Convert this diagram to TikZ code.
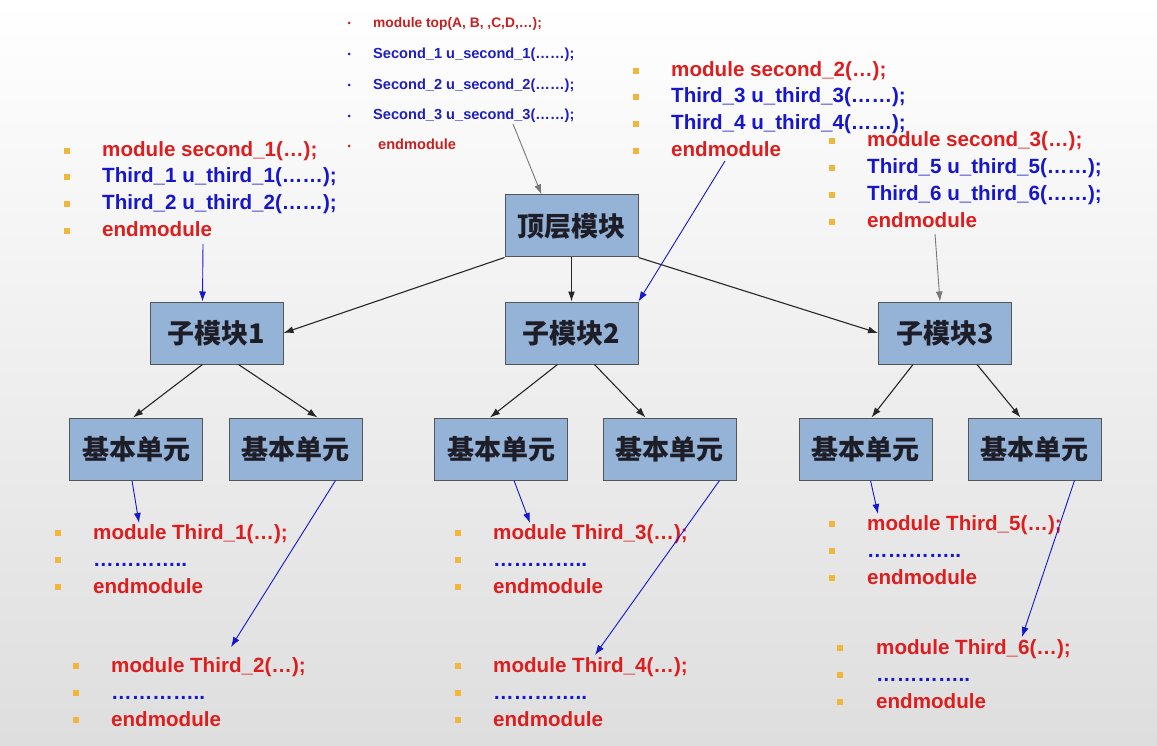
\documentclass[tikz,border=0pt]{standalone}
\usepackage{fontspec}
\setmainfont{Liberation Sans}
\newfontfamily\cjkfont{Noto Sans CJK SC}
\usetikzlibrary{arrows.meta,calc}
\definecolor{codered}{RGB}{222,30,30}
\definecolor{topred}{RGB}{200,32,32}
\definecolor{codeblue}{RGB}{22,22,205}
\definecolor{topblue}{RGB}{30,30,195}
\definecolor{bulorange}{RGB}{240,182,62}
\definecolor{boxfill}{RGB}{149,179,215}
\definecolor{boxline}{RGB}{85,85,85}
\definecolor{boxtext}{RGB}{30,30,40}
\definecolor{grayarrow}{RGB}{120,120,120}
\tikzset{
  box/.style={draw=boxline, line width=1pt, fill=boxfill, minimum width=133pt, minimum height=62pt, inner sep=0pt, text=boxtext, font=\cjkfont\bfseries\fontsize{27}{31}\selectfont},
  code/.style={anchor=base west, inner sep=0pt, font=\bfseries\fontsize{20.6}{24}\selectfont},
  rtxt/.style={code, text=codered},
  btxt/.style={code, text=codeblue},
  small/.style={anchor=base west, inner sep=0pt, font=\bfseries\fontsize{14.6}{17}\selectfont},
  srtxt/.style={small, text=topred},
  sbtxt/.style={small, text=topblue},
  sq/.style={rectangle, fill=bulorange, minimum size=6pt, inner sep=0pt},
  rdot/.style={circle, fill=topred, minimum size=3pt, inner sep=0pt},
  bdot/.style={circle, fill=topblue, minimum size=3pt, inner sep=0pt},
  blk/.style={draw=black!85, line width=1.1pt, -{Latex[length=10pt,width=7pt]}},
  blu/.style={draw=codeblue, line width=0.9pt, -{Latex[length=10pt,width=7pt]}},
  gry/.style={draw=grayarrow, line width=0.9pt, -{Latex[length=10pt,width=7pt]}},
}
\begin{document}
\begin{tikzpicture}[x=1pt,y=-1pt]
\useasboundingbox (0,0) rectangle (1157,746);
\shade[top color=white, bottom color=gray!26] (0,0) rectangle (1157,746);

% ---------- boxes ----------
\node[box] (top) at (571.5,226) {顶层模块};
\node[box] (s1) at (216.5,333) {子模块1};
\node[box] (s2) at (571.5,333) {子模块2};
\node[box] (s3) at (945,333) {子模块3};
\node[box] (b1) at (136,449) {基本单元};
\node[box] (b2) at (295.5,449) {基本单元};
\node[box] (b3) at (501,449) {基本单元};
\node[box] (b4) at (669.5,449) {基本单元};
\node[box] (b5) at (865.5,449) {基本单元};
\node[box] (b6) at (1034.5,449) {基本单元};

% ---------- top module text ----------
\node[rdot] (td1) at (349,23) {};
\node[bdot] (td2) at (349,54) {};
\node[bdot] (td3) at (349,85) {};
\node[bdot] (td4) at (349,116) {};
\node[rdot] (td5) at (349,146) {};
\node[srtxt, font=\bfseries\fontsize{13.8}{16}\selectfont] (tl1) at (373,28) {module top(A, B, ,C,D,…);};
\node[sbtxt] (tl2) at (373,59) {Second\_1 u\_second\_1(……);};
\node[sbtxt] (tl3) at (373,90) {Second\_2 u\_second\_2(……);};
\node[sbtxt] (tl4) at (373,120) {Second\_3 u\_second\_3(……);};
\node[srtxt] (tl5) at (378,150) {endmodule};

% ---------- second_1 ----------
\node[sq] (a1) at (67,151) {};
\node[sq] (a2) at (67,177) {};
\node[sq] (a3) at (67,204) {};
\node[sq] (a4) at (67,231) {};
\node[rtxt] (al1) at (102,157) {module second\_1(…);};
\node[btxt] (al2) at (102,183) {Third\_1 u\_third\_1(……);};
\node[btxt] (al3) at (102,210) {Third\_2 u\_third\_2(……);};
\node[rtxt] (al4) at (102,237) {endmodule};

% ---------- second_2 ----------
\node[sq] (c1) at (636,71) {};
\node[sq] (c2) at (636,97) {};
\node[sq] (c3) at (636,124) {};
\node[sq] (c4) at (636,151) {};
\node[rtxt] (cl1) at (671,77) {module second\_2(…);};
\node[btxt] (cl2) at (671,103) {Third\_3 u\_third\_3(……);};
\node[btxt] (cl3) at (671,130) {Third\_4 u\_third\_4(……);};
\node[rtxt] (cl4) at (671,157) {endmodule};

% ---------- second_3 ----------
\node[sq] (d1) at (832,141) {};
\node[sq] (d2) at (832,168) {};
\node[sq] (d3) at (832,195) {};
\node[sq] (d4) at (832,222) {};
\node[rtxt] (dl1) at (867,147) {module second\_3(…);};
\node[btxt] (dl2) at (867,174) {Third\_5 u\_third\_5(……);};
\node[btxt] (dl3) at (867,201) {Third\_6 u\_third\_6(……);};
\node[rtxt] (dl4) at (867,228) {endmodule};

% ---------- Third_1 ----------
\node[sq] (e1) at (58,533) {};
\node[sq] (e2) at (58,560) {};
\node[sq] (e3) at (58,587) {};
\node[rtxt] (el1) at (93,539) {module Third\_1(…);};
\node[btxt] (el2) at (93,566) {…………..};
\node[rtxt] (el3) at (93,593) {endmodule};

% ---------- Third_2 ----------
\node[sq] (f1) at (76,666) {};
\node[sq] (f2) at (76,693) {};
\node[sq] (f3) at (76,720) {};
\node[rtxt] (fl1) at (111,672) {module Third\_2(…);};
\node[btxt] (fl2) at (111,699) {…………..};
\node[rtxt] (fl3) at (111,726) {endmodule};

% ---------- Third_3 ----------
\node[sq] (g1) at (458,533) {};
\node[sq] (g2) at (458,560) {};
\node[sq] (g3) at (458,587) {};
\node[rtxt] (gl1) at (493,539) {module Third\_3(…);};
\node[btxt] (gl2) at (493,566) {…………..};
\node[rtxt] (gl3) at (493,593) {endmodule};

% ---------- Third_4 ----------
\node[sq] (h1) at (458,666) {};
\node[sq] (h2) at (458,693) {};
\node[sq] (h3) at (458,720) {};
\node[rtxt] (hl1) at (493,672) {module Third\_4(…);};
\node[btxt] (hl2) at (493,699) {…………..};
\node[rtxt] (hl3) at (493,726) {endmodule};

% ---------- Third_5 ----------
\node[sq] (i1) at (832,524) {};
\node[sq] (i2) at (832,551) {};
\node[sq] (i3) at (832,578) {};
\node[rtxt] (il1) at (867,530) {module Third\_5(…);};
\node[btxt] (il2) at (867,557) {…………..};
\node[rtxt] (il3) at (867,584) {endmodule};

% ---------- Third_6 ----------
\node[sq] (j1) at (840,648) {};
\node[sq] (j2) at (840,675) {};
\node[sq] (j3) at (840,702) {};
\node[rtxt] (jl1) at (876,654) {module Third\_6(…);};
\node[btxt] (jl2) at (876,681) {…………..};
\node[rtxt] (jl3) at (876,708) {endmodule};

% ---------- black tree arrows ----------
\draw[blk] (top.south west) -- (s1.east);
\draw[blk] (top.south) -- (s2.north);
\draw[blk] (top.south east) -- (s3.west);
\draw[blk] ($(s1.south)+(-14,0)$) -- ($(b1.north)+(-3,0)$);
\draw[blk] ($(s1.south)+(22,0)$) -- ($(b2.north)+(22,0)$);
\draw[blk] ($(s2.south)+(-14,0)$) -- ($(b3.north)+(-11,0)$);
\draw[blk] ($(s2.south)+(23,0)$) -- ($(b4.north)+(-24,0)$);
\draw[blk] ($(s3.south)+(-32,0)$) -- ($(b5.north)+(6,0)$);
\draw[blk] ($(s3.south)+(32,0)$) -- ($(b6.north)+(-14,0)$);

% ---------- gray arrows ----------
\coordinate (gA) at (513,124);
\coordinate (gB) at (935,234);
\draw[gry] (gA) -- ($(top.north)+(-30,0)$);
\draw[gry] (gB) -- ($(s3.north)+(-5,0)$);

% ---------- blue arrows ----------
\coordinate (uA) at (203,244);
\coordinate (uB) at (725,161);
\draw[blu] (uA) -- ($(s1.north)+(-14,0)$);
\draw[blu] (uB) -- (s2.north east);
\coordinate (t1) at (139,523);
\coordinate (t2) at (231,647);
\coordinate (t3) at (530,523);
\coordinate (t4) at (595,655);
\coordinate (t5) at (878,514);
\coordinate (t6) at (1022,637);
\draw[blu] ($(b1.south)+(-4,0)$) -- (t1);
\draw[blu] ($(b2.south)+(40,0)$) -- (t2);
\draw[blu] ($(b3.south)+(13,0)$) -- (t3);
\draw[blu] ($(b4.south)+(50,0)$) -- (t4);
\draw[blu] ($(b5.south)+(5,0)$) -- (t5);
\draw[blu] ($(b6.south)+(40,0)$) -- (t6);
\end{tikzpicture}
\end{document}
